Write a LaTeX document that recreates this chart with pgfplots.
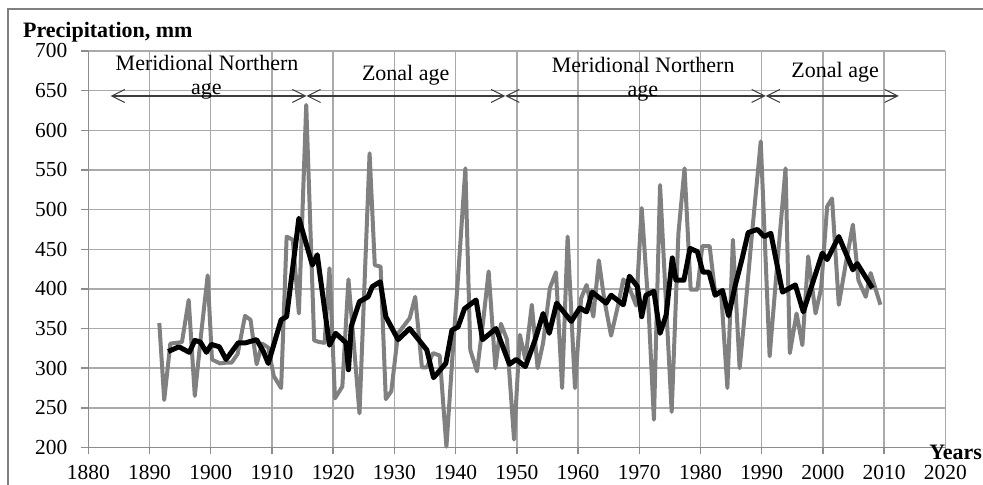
\documentclass[border=0pt]{standalone}
\usepackage{fontspec}
\setmainfont{Liberation Serif}
\usepackage{pgfplots}
\pgfplotsset{compat=1.18}
\usetikzlibrary{arrows.meta}
\definecolor{gridc}{RGB}{170,170,170}
\definecolor{axisgray}{RGB}{140,140,140}
\definecolor{series}{RGB}{128,128,128}
\definecolor{arrowc}{RGB}{60,60,60}
\definecolor{framec}{RGB}{128,128,128}

\begin{document}
\begin{tikzpicture}
\useasboundingbox (0,0) rectangle (491.5pt,242.5pt);
\draw[framec, line width=1pt] (4.15pt,-10pt) rectangle (510pt,237.85pt);
\begin{axis}[
  at={(44.15pt,18.75pt)}, anchor=south west,
  scale only axis, width=428.5pt, height=198.25pt,
  xmin=1880, xmax=2020, ymin=200, ymax=700,
  xtick={1880,1890,...,2020}, ytick={200,250,...,700},
  axis x line=bottom, axis y line=left,
  axis line style={draw=axisgray, line width=0.7pt, -},
  grid=major, major grid style={draw=gridc, line width=0.7pt},
  tick align=outside, major tick length=3.5pt,
  tick style={draw=axisgray, line width=0.7pt},
  /pgf/number format/1000 sep={},
  /pgf/number format/assume math mode=true,
  ticklabel style={font=\fontsize{10.7}{12}\selectfont},
  xticklabel style={anchor=base, inner sep=0pt, yshift=-12.75pt},
  yticklabel style={anchor=east, inner sep=0pt, xshift=-6.8pt},
  clip=false,
]
\addplot[series, line width=2pt, line join=round] coordinates {
(1891.6,357)(1892.4,260)(1893.4,331)(1894.4,332)(1895.3,333)(1896.4,386)(1897.4,265)(1898.4,341)(1899.5,417)
(1900.2,311)(1901.5,306)(1902.5,307)(1903.4,307)(1904.4,318)(1905.6,366)(1906.5,361)(1907.5,305)(1908.4,331)(1909.4,326)
(1910.3,290)(1911.5,275)(1912.4,466)(1913.4,462)(1914.4,369)(1915.6,632)(1916.9,335)(1917.7,333)(1918.6,332)(1919.4,426)
(1920.3,262)(1921.5,277)(1922.5,412)(1923.4,328)(1924.3,243)(1925.95,571)(1926.8,430)(1927.75,428)(1928.6,261)(1929.5,271)
(1930.6,344)(1931.5,353)(1932.5,363)(1933.4,390)(1934.5,301)(1935.3,301)(1936.3,319)(1937.4,316)(1938.5,201)(1939.5,316)
(1940.6,437)(1941.6,552)(1942.4,323)(1943.5,296)(1944.5,359)(1945.4,422)(1946.5,300)(1947.4,356)(1948.4,336)(1949.55,210)
(1950.5,342)(1951.4,311)(1952.45,380)(1953.4,300)(1954.3,332)(1955.4,401)(1956.4,421)(1957.4,275)(1958.3,466)(1959.5,275)
(1960.5,388)(1961.4,405)(1962.5,365)(1963.4,436)(1964.3,386)(1965.4,341)(1966.5,378)(1967.4,412)(1968.4,401)(1969.5,379)
(1970.4,502)(1971.5,378)(1972.4,235)(1973.4,531)(1974.35,386)(1975.3,245)(1976.4,470)(1977.4,552)(1978.4,399)(1979.5,399)
(1980.3,454)(1981.5,454)(1982.4,395)(1983.4,393)(1984.4,275)(1985.3,462)(1986.4,300)(1987.4,381)(1988.4,468)(1989.85,586)
(1991.3,315)(1992.3,409)(1993.9,552)(1994.6,319)(1995.7,369)(1996.65,329)(1997.6,441)(1998.8,369)(1999.7,400)
(2000.7,504)(2001.5,514)(2002.6,380)(2003.7,430)(2004.9,481)(2005.8,411)(2007.0,390)(2007.8,420)(2009.4,380)
};
\addplot[black, line width=2.5pt, line join=round] coordinates {
(1893.05,321)(1894.8,327)(1896.5,320)(1897.4,335)(1898.3,333)(1899.3,320)(1900.1,330)(1901.4,327)(1902.5,311)
(1904.5,332)(1905.7,332)(1907.5,336)(1908.6,321)(1909.4,306)(1911.5,361)(1912.4,365)(1914.4,489)(1916.6,430)(1917.4,443)
(1919.4,329)(1920.4,344)(1922.1,332)(1922.5,298)(1922.96,353)(1924.3,384)(1925.7,390)(1926.4,403)(1927.7,409)(1928.6,365)
(1930.6,336)(1932.5,350)(1935.3,323)(1936.4,288)(1938.4,306)(1939.4,348)(1940.4,352)(1941.45,375)(1943.35,386)(1944.4,336)
(1946.6,350)(1948.8,305)(1949.9,311)(1951.4,302)(1953.0,336)(1954.3,369)(1955.3,344)(1956.5,382)(1958.9,359)
(1960.3,376)(1961.4,371)(1962.3,396)(1964.6,382)(1965.4,392)(1967.4,380)(1968.4,416)(1969.7,403)(1970.4,365)(1971.1,392)
(1972.4,397)(1973.4,344)(1974.4,367)(1975.4,439)(1976.0,411)(1977.3,411)(1978.3,451)(1979.5,447)(1980.4,421)(1981.4,421)
(1982.4,392)(1983.6,398)(1984.6,366)(1985.7,405)(1986.8,438)(1987.8,471)(1989.3,475)(1990.4,466)(1991.5,470)
(1993.4,396)(1995.5,405)(1996.8,371)(1999.9,445)(2000.7,437)(2002.6,466)(2004.9,424)(2005.6,432)(2008.1,401)
};
\tikzset{agearrow/.style={arrowc, line width=0.8pt,
  {Straight Barb[length=6.5pt,width=6.5pt,line width=0.5pt]}-{Straight Barb[length=6.5pt,width=6.5pt,line width=0.5pt]}}}
\draw[agearrow] (axis cs:1883.65,643.3) -- (axis cs:1915.63,643.3);
\draw[agearrow] (axis cs:1915.63,643.3) -- (axis cs:1948.1,643.3);
\draw[agearrow] (axis cs:1948.1,643.3) -- (axis cs:1990.67,643.3);
\draw[agearrow] (axis cs:1990.67,643.3) -- (axis cs:2012.4,643.3);
\node[anchor=base, inner sep=0pt, font=\fontsize{11}{13}\selectfont] at (axis cs:1899.4,674.8) {Meridional Northern};
\node[anchor=base, inner sep=0pt, font=\fontsize{11}{13}\selectfont] at (axis cs:1899.3,644.5) {age};
\node[anchor=base, inner sep=0pt, font=\fontsize{11}{13}\selectfont] at (axis cs:1931.85,662.6) {Zonal age};
\node[anchor=base, inner sep=0pt, font=\fontsize{11}{13}\selectfont] at (axis cs:1970.65,673.1) {Meridional Northern};
\node[anchor=base, inner sep=0pt, font=\fontsize{11}{13}\selectfont] at (axis cs:1970.6,642.0) {age};
\node[anchor=base, inner sep=0pt, font=\fontsize{11}{13}\selectfont] at (axis cs:2002.0,666.9) {Zonal age};
\end{axis}
\node[anchor=base west, inner sep=0pt, font=\bfseries\fontsize{11}{13}\selectfont] at (11.35pt,223.65pt) {Precipitation, mm};
\node[anchor=base west, inner sep=0pt, font=\bfseries\fontsize{11}{13}\selectfont] at (464.5pt,12.5pt) {Years};
\end{tikzpicture}
\end{document}
